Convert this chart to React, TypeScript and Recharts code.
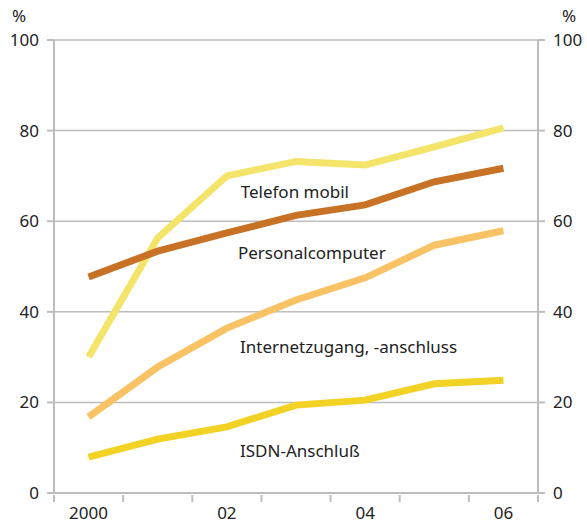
import { LineChart, Line, XAxis, YAxis, CartesianGrid, ReferenceDot } from "recharts"

// values (percent of households)
const years = [2000, 2001, 2002, 2003, 2004, 2005, 2006]
const telefonMobil = [30, 56.3, 70, 73.2, 72.4, 76.4, 80.6]
const personalcomputer = [47.7, 53.4, 57.4, 61.3, 63.6, 68.7, 71.7]
const internetzugang = [16.8, 27.8, 36.4, 42.6, 47.5, 54.7, 57.9]
const isdnAnschluss = [7.9, 11.9, 14.6, 19.4, 20.5, 24.1, 24.9]

const yTicks = [0, 20, 40, 60, 80, 100]
const bandEdges = [1999.5, 2000.5, 2001.5, 2002.5, 2003.5, 2004.5, 2005.5, 2006.5]
const labelYears = [2000, 2002, 2004, 2006]
const xTicks = [...bandEdges, ...labelYears].sort((a, b) => a - b)

const data = years.map((year, i) => ({
  year,
  telefon: telefonMobil[i],
  pc: personalcomputer[i],
  internet: internetzugang[i],
  isdn: isdnAnschluss[i],
}))

const series = [
  { key: "telefon", color: "#f4e46a", yId: "left" },
  { key: "internet", color: "#f8c265", yId: "left" },
  { key: "isdn", color: "#f2d225", yId: "left" },
  // right axis needs a series of its own to draw its ticks (same 0-100 domain)
  { key: "pc", color: "#c87226", yId: "right" },
]

// series names drawn inside the plot (anchored at year / percent)
const seriesLabels = [
  { text: "Telefon mobil", year: 2002.2, value: 65.1 },
  { text: "Personalcomputer", year: 2002.16, value: 51.7 },
  { text: "Internetzugang, -anschluss", year: 2002.19, value: 30.9 },
  { text: "ISDN-Anschluß", year: 2002.19, value: 7.9 },
]

const FONT = "'Noto Sans', sans-serif"
const GRID = "#bdbdbd"
const tickStyle = { fontSize: 17, fill: "#222", fontFamily: FONT }

const yearLabel = (y: number) => (y === 2000 ? "2000" : "0" + (y % 100))

// tick marks on the band edges, year labels centred in the bands
const YearTick = ({ x, y, payload }: any) => {
  const v = payload.value
  if (!Number.isInteger(v)) {
    return <line x1={x} x2={x} y1={y} y2={y + 7} stroke={GRID} strokeWidth={2} />
  }
  return (
    <text x={x} y={y + 24} textAnchor="middle" {...tickStyle}>
      {yearLabel(v)}
    </text>
  )
}

export default function App() {
  return (
    <div style={{ position: "absolute", left: 0, top: 0, width: 587, height: 523, background: "#fff" }}>
      <LineChart width={587} height={523} data={data} margin={{ top: 40, right: 0, bottom: 0, left: 0 }}>
        <CartesianGrid vertical={false} stroke={GRID} strokeWidth={1.5} yAxisId="left" />
        <XAxis
          dataKey="year"
          type="number"
          domain={[1999.5, 2006.5]}
          ticks={xTicks}
          interval={0}
          tickLine={false}
          tickSize={0}
          height={30}
          stroke={GRID}
          strokeWidth={2}
          tick={<YearTick />}
        />
        <YAxis
          yAxisId="left"
          domain={[0, 100]}
          ticks={yTicks}
          width={54}
          tickSize={7}
          tickMargin={8}
          stroke={GRID}
          strokeWidth={2}
          tick={tickStyle}
        />
        <YAxis
          yAxisId="right"
          orientation="right"
          domain={[0, 100]}
          ticks={yTicks}
          width={49}
          tickSize={7}
          tickMargin={8}
          stroke={GRID}
          strokeWidth={2}
          tick={tickStyle}
        />
        {series.map((s) => (
          <Line
            key={s.key}
            yAxisId={s.yId}
            dataKey={s.key}
            stroke={s.color}
            strokeWidth={7}
            strokeLinejoin="miter"
            dot={false}
            activeDot={false}
            isAnimationActive={false}
          />
        ))}
        {seriesLabels.map((l) => (
          <ReferenceDot
            key={l.text}
            yAxisId="left"
            x={l.year}
            y={l.value}
            r={0}
            shape={(p: any) => (
              <text x={p.cx} y={p.cy} fontSize={17} fill="#222" fontFamily={FONT}>
                {l.text}
              </text>
            )}
          />
        ))}
      </LineChart>
      <div style={{ position: "absolute", left: 12, top: 4, fontSize: 17, fontFamily: FONT, color: "#222" }}>%</div>
      <div style={{ position: "absolute", left: 562, top: 4, fontSize: 17, fontFamily: FONT, color: "#222" }}>%</div>
    </div>
  )
}
